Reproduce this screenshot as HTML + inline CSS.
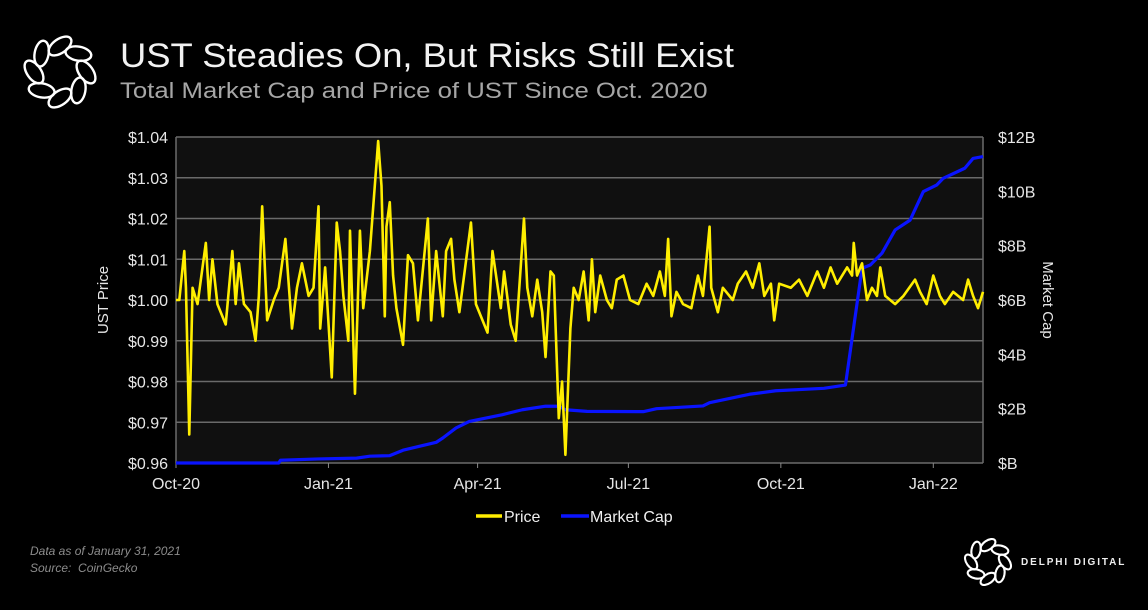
<!DOCTYPE html>
<html><head><meta charset="utf-8">
<style>
html,body{margin:0;padding:0;background:#000;}
body{width:1148px;height:610px;position:relative;overflow:hidden;font-family:"Liberation Sans",sans-serif;color:#fff;}
.abs{position:absolute;white-space:nowrap;}
</style></head>
<body>
<svg class="abs" style="left:20px;top:34px" width="80" height="76" viewBox="0 0 80 76">
  <g fill="none" stroke="#fff" stroke-width="2.4" id="lg1"></g>
</svg>
<div class="abs" style="left:120px;top:37px;font-size:34px;color:#f2f2f2;transform:scaleX(1.07);transform-origin:0 0;">UST Steadies On, But Risks Still Exist</div>
<div class="abs" style="left:120px;top:78px;font-size:22px;color:#a6a6a6;transform:scaleX(1.17);transform-origin:0 0;">Total Market Cap and Price of UST Since Oct. 2020</div>

<svg id="chart" class="abs" style="left:0;top:0" width="1148" height="610"></svg>

<div class="abs" style="left:30px;top:543px;font-size:12px;font-style:italic;color:#8c8c8c;line-height:17px;">Data as of January 31, 2021<br>Source:&nbsp; CoinGecko</div>
<svg class="abs" style="left:962px;top:536px" width="52" height="52" viewBox="0 0 80 76">
  <g fill="none" stroke="#fff" stroke-width="3.2" id="lg2"></g>
</svg>
<div class="abs" style="left:1021px;top:557px;font-size:10px;letter-spacing:1.9px;color:#eee;font-weight:bold;">DELPHI DIGITAL</div>

<script>
// ---- data ----
const priceDays = [0,2,5,6,8,10,13,18,20,22,25,30,34,36,38,41,45,48,50,52,55,59,62,66,70,73,76,80,83,86,87,90,94,97,99,101,104,105,108,111,113,117,122,124,126,127,129,131,133,137,140,143,146,152,154,157,161,163,166,168,171,178,181,188,191,196,198,202,205,210,212,215,218,221,223,226,228,231,233,235,238,240,243,246,249,251,253,256,260,263,266,270,274,279,284,288,292,295,297,299,302,306,311,315,318,322,323,327,330,336,339,344,348,352,355,359,361,364,371,376,381,387,391,395,399,405,408,409,411,414,417,420,423,425,428,434,439,446,449,453,457,461,464,469,475,478,481,484,487];
const priceVals = [1.000,1.000,1.012,1.003,0.967,1.003,0.999,1.014,1.000,1.010,0.999,0.994,1.012,0.999,1.009,0.999,0.997,0.990,1.001,1.023,0.995,1.000,1.003,1.015,0.993,1.003,1.009,1.001,1.003,1.023,0.993,1.008,0.981,1.019,1.012,1.001,0.990,1.017,0.977,1.017,0.998,1.012,1.039,1.028,0.996,1.018,1.024,1.006,0.998,0.989,1.011,1.009,0.995,1.020,0.995,1.012,0.996,1.012,1.015,1.005,0.997,1.019,0.999,0.992,1.012,0.998,1.007,0.994,0.990,1.020,1.003,0.996,1.005,0.997,0.986,1.007,1.006,0.971,0.980,0.962,0.993,1.003,1.000,1.007,0.995,1.010,0.997,1.006,1.000,0.998,1.005,1.006,1.000,0.999,1.004,1.001,1.007,1.001,1.015,0.996,1.002,0.999,0.998,1.006,1.001,1.018,1.003,0.997,1.003,1.000,1.004,1.007,1.003,1.009,1.001,1.004,0.995,1.004,1.003,1.005,1.001,1.007,1.003,1.008,1.004,1.008,1.006,1.014,1.006,1.009,1.000,1.003,1.001,1.008,1.001,0.999,1.001,1.005,1.002,0.999,1.006,1.001,0.999,1.002,1.000,1.005,1.001,0.998,1.002];
const mcapDays = [0,62,63,86,109,117,129,137,157,161,169,177,197,209,223,231,235,248,282,290,318,322,346,362,391,404,414,419,426,434,443,451,459,463,476,481,487];
const mcapVals = [0,0,0.1,0.15,0.18,0.25,0.27,0.47,0.76,0.92,1.29,1.53,1.78,1.96,2.09,2.09,1.96,1.9,1.89,2.0,2.1,2.22,2.53,2.66,2.75,2.87,7.17,7.29,7.72,8.58,8.94,9.99,10.23,10.48,10.85,11.21,11.28];
const priceTicks = ["$0.96","$0.97","$0.98","$0.99","$1.00","$1.01","$1.02","$1.03","$1.04"];
const mcapTicks = ["$B","$2B","$4B","$6B","$8B","$10B","$12B"];
const xTickLabels = ["Oct-20","Jan-21","Apr-21","Jul-21","Oct-21","Jan-22"];
const xTickDays = [0,92,182,273,365,457];

// ---- axes ----
const L=176,R=983,T=137,B=463,MAXD=487;
const xS=d=>L+(d/MAXD)*(R-L);
const yP=v=>B-(v-0.96)/0.08*(B-T);
const yM=v=>B-(v/12)*(B-T);
const NS="http://www.w3.org/2000/svg";
const svg=document.getElementById('chart');
function mk(tag,attrs,parent){const e=document.createElementNS(NS,tag);for(const k in attrs)e.setAttribute(k,attrs[k]);(parent||svg).appendChild(e);return e;}

const bg=mk('rect',{x:L,y:T,width:R-L,height:B-T,fill:'#101010'});


priceTicks.forEach((t,i)=>{
  const v=0.96+i*0.01;const y=yP(v);
  const g=mk('line',{x1:L,x2:R,y1:y,y2:y,stroke:'#6a6a6a','stroke-width':1.5});
  
  
  const tx=mk('text',{x:168,y:y+6,'text-anchor':'end',fill:'#e6e6e6','font-size':16});
  tx.textContent=t;
  
  
});
mk('line',{x1:L,x2:L,y1:T,y2:B,stroke:'#6a6a6a','stroke-width':1.5});
mk('line',{x1:R,x2:R,y1:T,y2:B,stroke:'#6a6a6a','stroke-width':1.5});
mcapTicks.forEach((t,i)=>{
  const y=yM(i*2);
  const tx=mk('text',{x:998,y:y+6,fill:'#e6e6e6','font-size':16});
  tx.textContent=t;
  
  
});
xTickLabels.forEach((t,i)=>{
  const x=xS(xTickDays[i]);
  mk('line',{x1:x,x2:x,y1:B,y2:B+5,stroke:'#888','stroke-width':1});
  const tx=mk('text',{x:x,y:B+26,'text-anchor':'middle',fill:'#e6e6e6','font-size':16});
  tx.textContent=t;
  
  
});
const yl=mk('text',{x:0,y:0,transform:'translate(108,300) rotate(-90)','text-anchor':'middle',fill:'#e6e6e6','font-size':15});
yl.textContent='UST Price';


const yr=mk('text',{x:0,y:0,transform:'translate(1043,300) rotate(90)','text-anchor':'middle',fill:'#e6e6e6','font-size':15});
yr.textContent='Market Cap';



const mp=mk('polyline',{points:mcapDays.map((d,i)=>xS(d)+','+yM(mcapVals[i])).join(' '),fill:'none',stroke:'#0a14ff','stroke-width':3.2,'stroke-linejoin':'round'});


const pp=mk('polyline',{points:priceDays.map((d,i)=>xS(d)+','+yP(priceVals[i])).join(' '),fill:'none',stroke:'#ffee00','stroke-width':2.6,'stroke-linejoin':'round'});



// legend
const l1=mk('line',{x1:476,x2:502,y1:516,y2:516,stroke:'#ffee00','stroke-width':3.5});


const lt1=mk('text',{x:504,y:522,fill:'#eee','font-size':16});
lt1.textContent='Price';


const l2=mk('line',{x1:561,x2:589,y1:516,y2:516,stroke:'#0a14ff','stroke-width':3.5});


const lt2=mk('text',{x:590,y:522,fill:'#eee','font-size':16});
lt2.textContent='Market Cap';



// logos
['lg1','lg2'].forEach(id=>{
  const g=document.getElementById(id);
  for(let k=0;k<8;k++){
    const a=k*45;
    mk('ellipse',{cx:40,cy:38-26,rx:7,ry:13,transform:`rotate(${a} 40 38) rotate(55 40 12)`},g);
  }
});
</script>
</body></html>
